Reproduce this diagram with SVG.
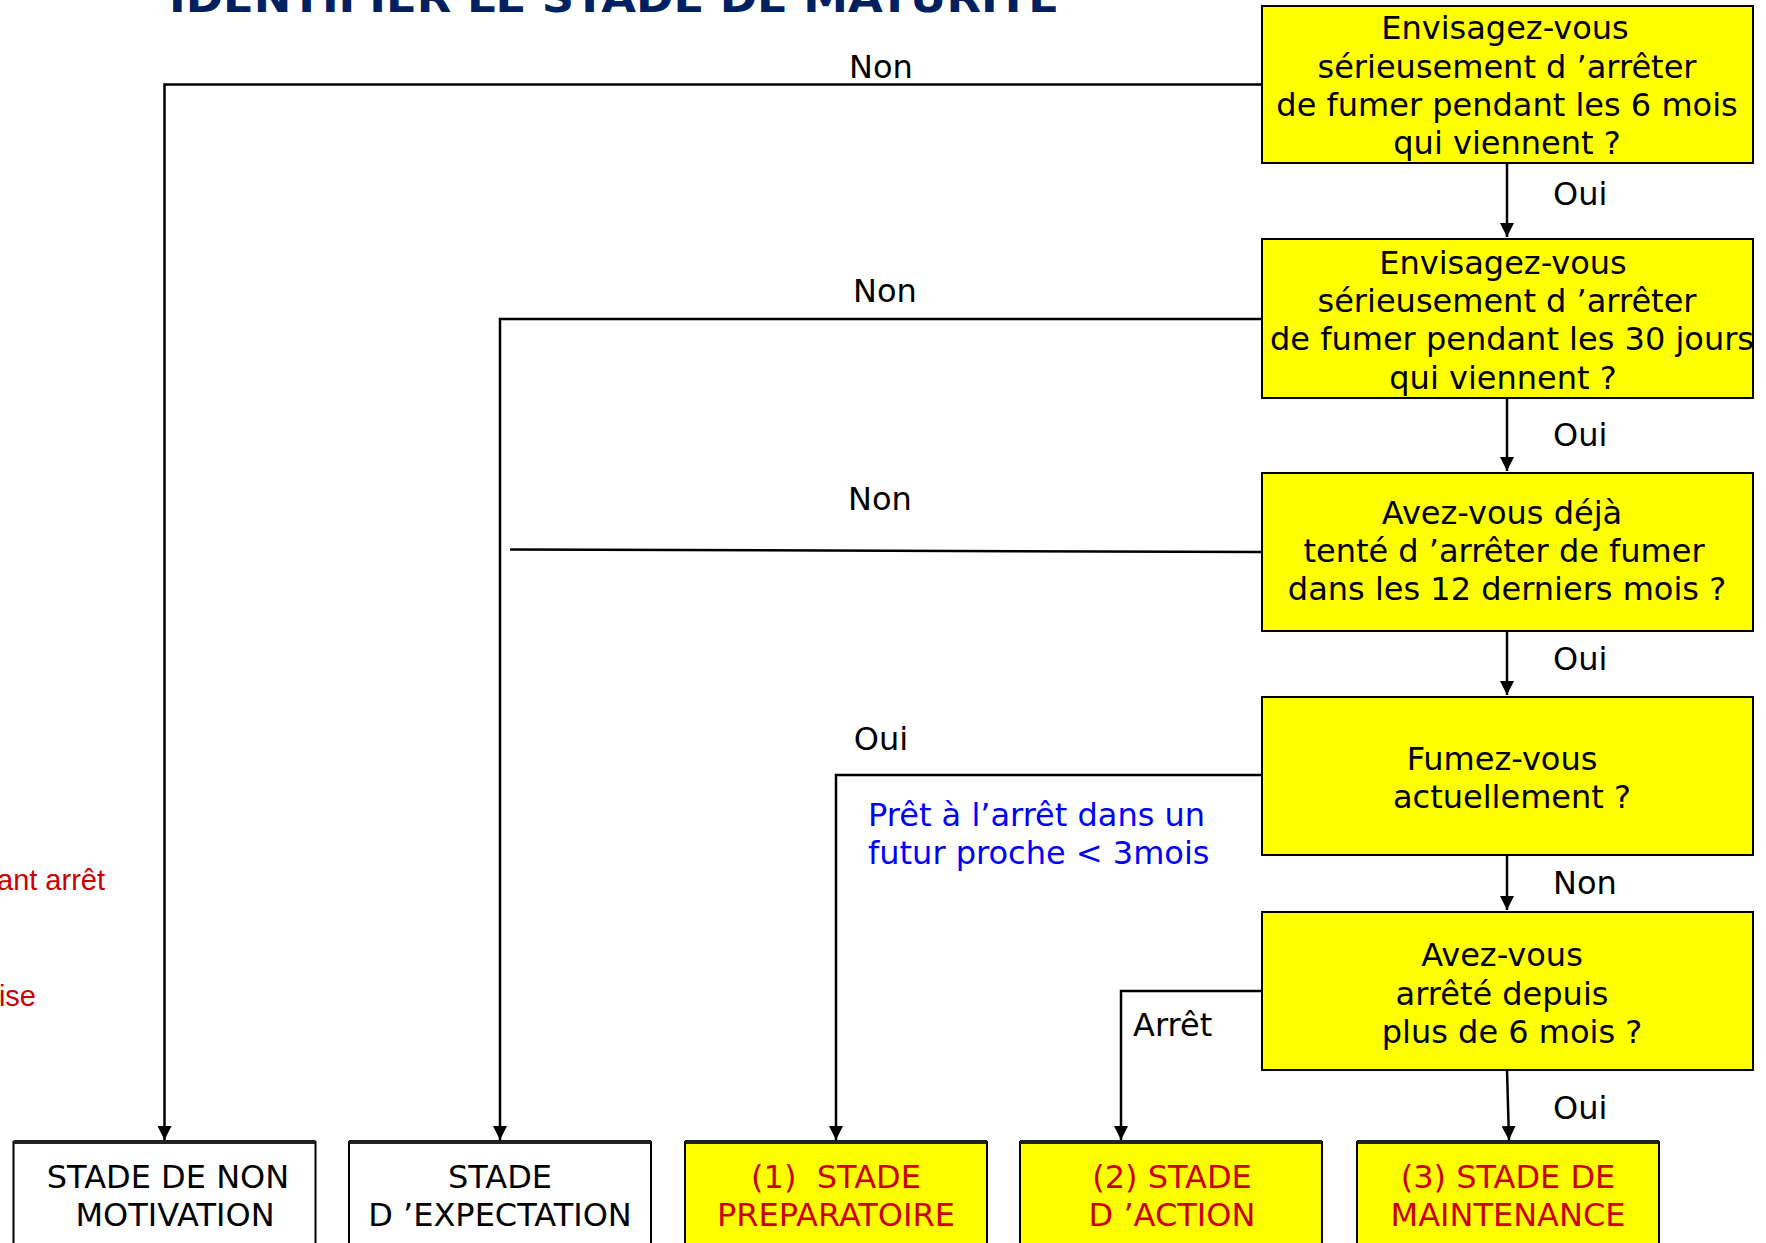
<svg xmlns="http://www.w3.org/2000/svg" width="1766" height="1243" viewBox="0 0 1766 1243">
<defs>
<style>
text{font-family:"DejaVu Sans","Liberation Sans",sans-serif;font-size:32px;fill:#000}
.q{fill:#ffff00;stroke:#000;stroke-width:2}
.w{fill:#fff;stroke:#000;stroke-width:2}
.c{text-anchor:middle}
.r{fill:#cc0000}
.b{fill:#0000ff}
.rn{font-family:"Liberation Sans","DejaVu Sans",sans-serif;font-size:29px;text-anchor:end}
.ln{fill:none;stroke:#000;stroke-width:2.5}
.top{fill:none;stroke:#222;stroke-width:4}
.title{font-weight:bold;fill:#002060;font-size:40px}
</style>
<marker id="ah" viewBox="0 0 10 10" refX="10" refY="5" markerWidth="14" markerHeight="14" markerUnits="userSpaceOnUse" orient="auto">
<path d="M0,0 L10,5 L0,10 z" fill="#000"/>
</marker>
</defs>
<rect width="1766" height="1243" fill="#fff"/>
<text class="title" x="169" y="12" textLength="890" lengthAdjust="spacingAndGlyphs">IDENTIFIER LE STADE DE MATURITE</text>

<g id="connectors">
<polyline class="ln" points="1262,84.5 164.5,84.5 164.5,1140" marker-end="url(#ah)"/>
<polyline class="ln" points="1262,319 500,319 500,1140" marker-end="url(#ah)"/>
<line class="ln" x1="510" y1="549.5" x2="1262" y2="552"/>
<polyline class="ln" points="1262,775 836,775 836,1140" marker-end="url(#ah)"/>
<polyline class="ln" points="1262,991 1121,991 1121,1140" marker-end="url(#ah)"/>
<line class="ln" x1="1507" y1="163" x2="1507" y2="237" marker-end="url(#ah)"/>
<line class="ln" x1="1507" y1="398" x2="1507" y2="471" marker-end="url(#ah)"/>
<line class="ln" x1="1507" y1="631" x2="1507" y2="695" marker-end="url(#ah)"/>
<line class="ln" x1="1507" y1="855" x2="1507" y2="910" marker-end="url(#ah)"/>
<line class="ln" x1="1507" y1="1070" x2="1509" y2="1140" marker-end="url(#ah)"/>
<text x="881" y="78" class="c">Non</text>
<text x="885" y="302" class="c">Non</text>
<text x="880" y="510" class="c">Non</text>
<text x="881" y="750" class="c">Oui</text>
<text x="1133" y="1036">Arrêt</text>
<text x="1553" y="205">Oui</text>
<text x="1553" y="446">Oui</text>
<text x="1553" y="670">Oui</text>
<text x="1553" y="894">Non</text>
<text x="1553" y="1119">Oui</text>
</g>

<g id="note-blue">
<text class="b" x="868" y="826">Prêt à l’arrêt dans un</text>
<text class="b" x="868" y="864">futur proche &lt; 3mois</text>
</g>
<g id="note-red">
<text class="r rn" x="105" y="890">ant arrêt</text>
<text class="r rn" x="36" y="1006">ise</text>
</g>

<g id="q1">
<rect class="q" x="1262" y="6" width="491" height="157"/>
<text class="c" x="1505" y="39">Envisagez-vous</text>
<text class="c" x="1507" y="78">sérieusement d ’arrêter</text>
<text class="c" x="1507" y="116">de fumer pendant les 6 mois</text>
<text class="c" x="1507" y="154">qui viennent ?</text>
</g>
<g id="q2">
<rect class="q" x="1262" y="239" width="491" height="159"/>
<text class="c" x="1503" y="274">Envisagez-vous</text>
<text class="c" x="1507" y="312">sérieusement d ’arrêter</text>
<text class="c" x="1512" y="350">de fumer pendant les 30 jours</text>
<text class="c" x="1503" y="389">qui viennent ?</text>
</g>
<g id="q3">
<rect class="q" x="1262" y="473" width="491" height="158"/>
<text class="c" x="1502" y="524">Avez-vous déjà</text>
<text class="c" x="1504" y="562">tenté d ’arrêter de fumer</text>
<text class="c" x="1507" y="600">dans les 12 derniers mois ?</text>
</g>
<g id="q4">
<rect class="q" x="1262" y="697" width="491" height="158"/>
<text class="c" x="1502" y="770">Fumez-vous</text>
<text class="c" x="1512" y="808">actuellement ?</text>
</g>
<g id="q5">
<rect class="q" x="1262" y="912" width="491" height="158"/>
<text class="c" x="1502" y="966">Avez-vous</text>
<text class="c" x="1502" y="1005">arrêté depuis</text>
<text class="c" x="1512" y="1043">plus de 6 mois ?</text>
</g>

<g id="s1">
<rect class="w" x="13.5" y="1142" width="302" height="120"/>
<line class="top" x1="13.5" y1="1142" x2="315.5" y2="1142"/>
<text class="c" x="168" y="1188">STADE DE NON</text>
<text class="c" x="175" y="1226">MOTIVATION</text>
</g>
<g id="s2">
<rect class="w" x="349" y="1142" width="302" height="120"/>
<line class="top" x1="349" y1="1142" x2="651" y2="1142"/>
<text class="c" x="500" y="1188">STADE</text>
<text class="c" x="500" y="1226">D ’EXPECTATION</text>
</g>
<g id="s3">
<rect class="q" x="685" y="1142" width="302" height="120"/>
<line class="top" x1="685" y1="1142" x2="987" y2="1142"/>
<text class="c r" x="836" y="1188" xml:space="preserve">(1)  STADE</text>
<text class="c r" x="836" y="1226">PREPARATOIRE</text>
</g>
<g id="s4">
<rect class="q" x="1020" y="1142" width="302" height="120"/>
<line class="top" x1="1020" y1="1142" x2="1322" y2="1142"/>
<text class="c r" x="1172" y="1188">(2) STADE</text>
<text class="c r" x="1172" y="1226">D ’ACTION</text>
</g>
<g id="s5">
<rect class="q" x="1357" y="1142" width="302" height="120"/>
<line class="top" x1="1357" y1="1142" x2="1659" y2="1142"/>
<text class="c r" x="1508" y="1188">(3) STADE DE</text>
<text class="c r" x="1508" y="1226">MAINTENANCE</text>
</g>
</svg>
